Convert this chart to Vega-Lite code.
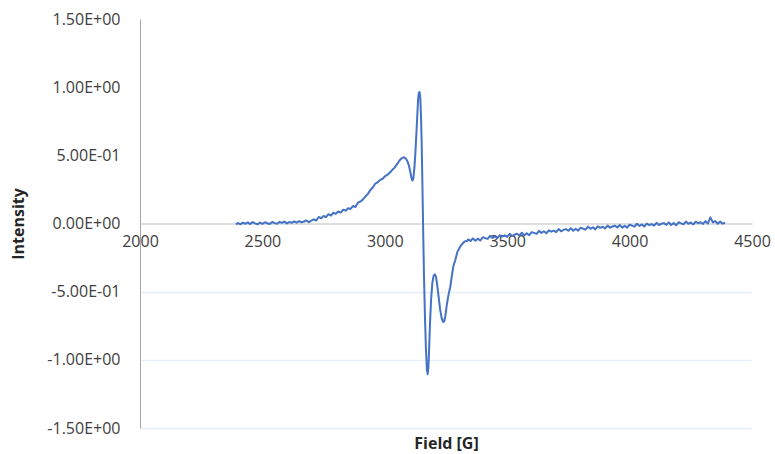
{
  "$schema": "https://vega.github.io/schema/vega-lite/v6.json",
  "width": 612,
  "height": 409,
  "autosize": "none",
  "padding": {"left": 140, "top": 19, "right": 23, "bottom": 26},
  "background": "white",
  "config": {"view": {"stroke": null}, "font": "Open Sans"},
  "data": {"values": [
    {"field": 2392, "intensity": -0.008}, {"field": 2400, "intensity": 0.004}, {"field": 2410, "intensity": -0.006}, {"field": 2420, "intensity": 0.006},
    {"field": 2430, "intensity": -0.002}, {"field": 2440, "intensity": 0.008}, {"field": 2450, "intensity": -0.004}, {"field": 2460, "intensity": 0.010},
    {"field": 2470, "intensity": 0.001}, {"field": 2480, "intensity": -0.006}, {"field": 2490, "intensity": 0.007}, {"field": 2500, "intensity": -0.003},
    {"field": 2510, "intensity": 0.009}, {"field": 2520, "intensity": 0.002}, {"field": 2530, "intensity": -0.004}, {"field": 2540, "intensity": 0.011},
    {"field": 2550, "intensity": 0.003}, {"field": 2560, "intensity": -0.002}, {"field": 2570, "intensity": 0.012}, {"field": 2580, "intensity": 0.004},
    {"field": 2590, "intensity": 0.014}, {"field": 2600, "intensity": 0.001}, {"field": 2610, "intensity": 0.011}, {"field": 2620, "intensity": 0.005},
    {"field": 2630, "intensity": 0.016}, {"field": 2640, "intensity": 0.006}, {"field": 2650, "intensity": 0.018}, {"field": 2660, "intensity": 0.008},
    {"field": 2670, "intensity": 0.015}, {"field": 2680, "intensity": 0.022}, {"field": 2690, "intensity": 0.010}, {"field": 2700, "intensity": 0.021},
    {"field": 2710, "intensity": 0.031}, {"field": 2720, "intensity": 0.022}, {"field": 2730, "intensity": 0.048}, {"field": 2740, "intensity": 0.038},
    {"field": 2750, "intensity": 0.055}, {"field": 2760, "intensity": 0.046}, {"field": 2770, "intensity": 0.068}, {"field": 2780, "intensity": 0.058},
    {"field": 2790, "intensity": 0.079}, {"field": 2800, "intensity": 0.071}, {"field": 2810, "intensity": 0.088}, {"field": 2820, "intensity": 0.080},
    {"field": 2830, "intensity": 0.101}, {"field": 2840, "intensity": 0.094}, {"field": 2850, "intensity": 0.112}, {"field": 2860, "intensity": 0.107},
    {"field": 2870, "intensity": 0.128}, {"field": 2880, "intensity": 0.121}, {"field": 2890, "intensity": 0.152}, {"field": 2900, "intensity": 0.160},
    {"field": 2910, "intensity": 0.175}, {"field": 2920, "intensity": 0.196}, {"field": 2930, "intensity": 0.215}, {"field": 2940, "intensity": 0.243},
    {"field": 2950, "intensity": 0.262}, {"field": 2960, "intensity": 0.290}, {"field": 2970, "intensity": 0.301}, {"field": 2980, "intensity": 0.318},
    {"field": 2990, "intensity": 0.327}, {"field": 3000, "intensity": 0.345}, {"field": 3010, "intensity": 0.356}, {"field": 3020, "intensity": 0.372},
    {"field": 3030, "intensity": 0.392}, {"field": 3040, "intensity": 0.410}, {"field": 3050, "intensity": 0.435}, {"field": 3060, "intensity": 0.462},
    {"field": 3070, "intensity": 0.480}, {"field": 3078, "intensity": 0.486}, {"field": 3085, "intensity": 0.478}, {"field": 3092, "intensity": 0.458},
    {"field": 3098, "intensity": 0.428}, {"field": 3104, "intensity": 0.380}, {"field": 3109, "intensity": 0.335}, {"field": 3113, "intensity": 0.315},
    {"field": 3117, "intensity": 0.335}, {"field": 3121, "intensity": 0.410}, {"field": 3125, "intensity": 0.520}, {"field": 3129, "intensity": 0.660},
    {"field": 3133, "intensity": 0.800}, {"field": 3136, "intensity": 0.910}, {"field": 3139, "intensity": 0.960}, {"field": 3142, "intensity": 0.965},
    {"field": 3145, "intensity": 0.920}, {"field": 3148, "intensity": 0.780}, {"field": 3151, "intensity": 0.560}, {"field": 3154, "intensity": 0.250},
    {"field": 3157, "intensity": -0.080}, {"field": 3160, "intensity": -0.380}, {"field": 3164, "intensity": -0.680}, {"field": 3168, "intensity": -0.920},
    {"field": 3172, "intensity": -1.070}, {"field": 3175, "intensity": -1.105}, {"field": 3178, "intensity": -1.060}, {"field": 3181, "intensity": -0.920},
    {"field": 3185, "intensity": -0.720}, {"field": 3189, "intensity": -0.560}, {"field": 3194, "intensity": -0.440}, {"field": 3199, "intensity": -0.385},
    {"field": 3204, "intensity": -0.372}, {"field": 3209, "intensity": -0.390}, {"field": 3214, "intensity": -0.450}, {"field": 3220, "intensity": -0.540},
    {"field": 3226, "intensity": -0.630}, {"field": 3232, "intensity": -0.690}, {"field": 3238, "intensity": -0.722}, {"field": 3243, "intensity": -0.718},
    {"field": 3248, "intensity": -0.670}, {"field": 3253, "intensity": -0.600}, {"field": 3258, "intensity": -0.545}, {"field": 3263, "intensity": -0.500},
    {"field": 3268, "intensity": -0.460}, {"field": 3273, "intensity": -0.395}, {"field": 3278, "intensity": -0.335}, {"field": 3282, "intensity": -0.300},
    {"field": 3287, "intensity": -0.275}, {"field": 3292, "intensity": -0.240}, {"field": 3297, "intensity": -0.205}, {"field": 3302, "intensity": -0.190},
    {"field": 3308, "intensity": -0.170}, {"field": 3314, "intensity": -0.155}, {"field": 3320, "intensity": -0.142}, {"field": 3328, "intensity": -0.130},
    {"field": 3336, "intensity": -0.128}, {"field": 3340, "intensity": -0.117}, {"field": 3350, "intensity": -0.128}, {"field": 3360, "intensity": -0.109},
    {"field": 3370, "intensity": -0.127}, {"field": 3380, "intensity": -0.111}, {"field": 3390, "intensity": -0.125}, {"field": 3400, "intensity": -0.101},
    {"field": 3410, "intensity": -0.107}, {"field": 3420, "intensity": -0.113}, {"field": 3430, "intensity": -0.091}, {"field": 3440, "intensity": -0.106},
    {"field": 3450, "intensity": -0.094}, {"field": 3460, "intensity": -0.108}, {"field": 3470, "intensity": -0.086}, {"field": 3480, "intensity": -0.096},
    {"field": 3490, "intensity": -0.087}, {"field": 3500, "intensity": -0.098}, {"field": 3510, "intensity": -0.076}, {"field": 3520, "intensity": -0.091},
    {"field": 3530, "intensity": -0.082}, {"field": 3540, "intensity": -0.075}, {"field": 3550, "intensity": -0.087}, {"field": 3560, "intensity": -0.068},
    {"field": 3570, "intensity": -0.086}, {"field": 3580, "intensity": -0.071}, {"field": 3590, "intensity": -0.086}, {"field": 3600, "intensity": -0.063},
    {"field": 3610, "intensity": -0.069}, {"field": 3620, "intensity": -0.076}, {"field": 3630, "intensity": -0.054}, {"field": 3640, "intensity": -0.069},
    {"field": 3650, "intensity": -0.057}, {"field": 3660, "intensity": -0.072}, {"field": 3670, "intensity": -0.050}, {"field": 3680, "intensity": -0.060},
    {"field": 3690, "intensity": -0.052}, {"field": 3700, "intensity": -0.063}, {"field": 3710, "intensity": -0.041}, {"field": 3720, "intensity": -0.057},
    {"field": 3730, "intensity": -0.047}, {"field": 3740, "intensity": -0.041}, {"field": 3750, "intensity": -0.053}, {"field": 3760, "intensity": -0.035},
    {"field": 3770, "intensity": -0.053}, {"field": 3780, "intensity": -0.039}, {"field": 3790, "intensity": -0.053}, {"field": 3800, "intensity": -0.031},
    {"field": 3810, "intensity": -0.038}, {"field": 3820, "intensity": -0.045}, {"field": 3830, "intensity": -0.023}, {"field": 3840, "intensity": -0.039},
    {"field": 3850, "intensity": -0.028}, {"field": 3860, "intensity": -0.043}, {"field": 3870, "intensity": -0.021}, {"field": 3880, "intensity": -0.032},
    {"field": 3890, "intensity": -0.024}, {"field": 3900, "intensity": -0.036}, {"field": 3910, "intensity": -0.015}, {"field": 3920, "intensity": -0.031},
    {"field": 3930, "intensity": -0.022}, {"field": 3940, "intensity": -0.016}, {"field": 3950, "intensity": -0.029}, {"field": 3960, "intensity": -0.011},
    {"field": 3970, "intensity": -0.030}, {"field": 3980, "intensity": -0.016}, {"field": 3990, "intensity": -0.031}, {"field": 4000, "intensity": -0.009},
    {"field": 4010, "intensity": -0.016}, {"field": 4020, "intensity": -0.023}, {"field": 4030, "intensity": -0.002}, {"field": 4040, "intensity": -0.018},
    {"field": 4050, "intensity": -0.007}, {"field": 4060, "intensity": -0.022}, {"field": 4070, "intensity": -0.001}, {"field": 4080, "intensity": -0.012},
    {"field": 4090, "intensity": -0.004}, {"field": 4100, "intensity": -0.016}, {"field": 4110, "intensity": 0.005}, {"field": 4120, "intensity": -0.011},
    {"field": 4130, "intensity": -0.002}, {"field": 4140, "intensity": 0.003}, {"field": 4150, "intensity": -0.010}, {"field": 4160, "intensity": 0.008},
    {"field": 4170, "intensity": -0.011}, {"field": 4180, "intensity": 0.003}, {"field": 4190, "intensity": -0.013}, {"field": 4200, "intensity": 0.009},
    {"field": 4210, "intensity": 0.001}, {"field": 4220, "intensity": -0.006}, {"field": 4230, "intensity": 0.014}, {"field": 4240, "intensity": -0.002},
    {"field": 4250, "intensity": 0.008}, {"field": 4260, "intensity": -0.007}, {"field": 4270, "intensity": 0.013}, {"field": 4280, "intensity": 0.002},
    {"field": 4290, "intensity": 0.009}, {"field": 4300, "intensity": -0.003}, {"field": 4310, "intensity": 0.017}, {"field": 4320, "intensity": 0.000},
    {"field": 4330, "intensity": 0.045}, {"field": 4340, "intensity": 0.008}, {"field": 4350, "intensity": 0.018}, {"field": 4360, "intensity": -0.002},
    {"field": 4370, "intensity": 0.015}, {"field": 4380, "intensity": -0.001}, {"field": 4390, "intensity": 0.005}
  ]},
  "mark": {"type": "line", "color": "#4472c4", "strokeWidth": 2, "strokeJoin": "round"},
  "encoding": {
    "x": {
      "field": "field", "type": "quantitative",
      "scale": {"domain": [2000, 4500], "nice": false, "zero": false},
      "axis": {
        "values": [2000, 2500, 3000, 3500, 4000, 4500],
        "format": "d",
        "offset": -204.5,
        "domainColor": "#bfbfbf",
        "domainWidth": 1,
        "ticks": false,
        "grid": false,
        "labelPadding": 10,
        "labelFontSize": 16,
        "labelColor": "#404040",
        "labelFlush": false,
        "labelOverlap": false,
        "labelBound": false,
        "title": "Field [G]",
        "titleFontSize": 16,
        "titleFontWeight": "bold",
        "titleColor": "#262626",
        "titleY": 219.5,
        "titleBaseline": "middle"
      }
    },
    "y": {
      "field": "intensity", "type": "quantitative",
      "scale": {"domain": [-1.5, 1.5], "nice": false, "zero": false},
      "axis": {
        "values": [-1.5, -1, -0.5, 0, 0.5, 1, 1.5],
        "labelExpr": "datum.value == 0 ? '0.00E+00' : (datum.value < 0 ? '-' : '') + format(abs(datum.value) / pow(10, floor(log(abs(datum.value)) / LN10 + 1e-9)), '.2f') + 'E' + (floor(log(abs(datum.value)) / LN10 + 1e-9) < 0 ? '-' : '+') + pad(toString(abs(floor(log(abs(datum.value)) / LN10 + 1e-9))), 2, '0', 'left')",
        "domainColor": "#a6a6a6",
        "domainWidth": 1,
        "ticks": false,
        "grid": true,
        "gridColor": {"condition": {"test": "datum.value < 0", "value": "#e9edf6"}, "value": "transparent"},
        "gridWidth": 1.5,
        "labelPadding": 20,
        "labelFontSize": 16,
        "labelColor": "#404040",
        "labelFlush": false,
        "labelOverlap": false,
        "title": "Intensity",
        "titleFontSize": 16,
        "titleFontWeight": "bold",
        "titleColor": "#262626",
        "titleAngle": -90,
        "titleX": -122,
        "titleY": 204.5,
        "titleAlign": "center",
        "titleBaseline": "middle"
      }
    }
  }
}
